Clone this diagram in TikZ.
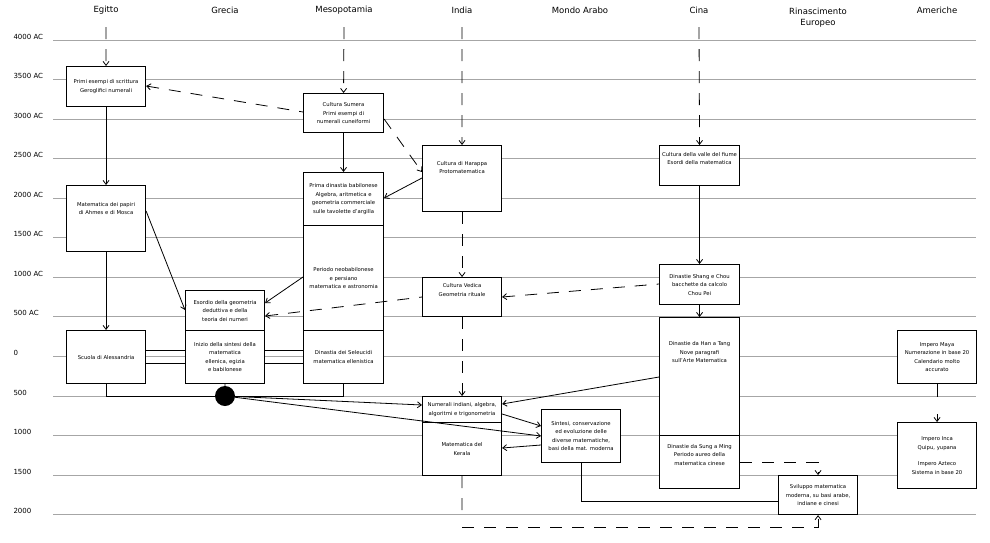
\documentclass[tikz,border=0pt]{standalone}
\usepackage{fontspec}
\setmainfont{DejaVu Sans}
\usetikzlibrary{arrows.meta}
\begin{document}
\begin{tikzpicture}[x=1pt,y=-1pt,
 box/.style={draw,line width=1.1pt,anchor=north west,inner sep=1pt,align=center,font=\fontsize{5.3}{8.5}\selectfont},
 hdr/.style={font=\fontsize{8.5}{11}\selectfont,align=center},
 yl/.style={font=\fontsize{7}{9}\selectfont,anchor=west},
 ar/.style={-{Straight Barb[length=4pt,width=6pt]},line width=0.8pt},
 dar/.style={ar,dash pattern=on 12pt off 10pt},
 gl/.style={gray!70,line width=0.9pt}]
\useasboundingbox (0,0) rectangle (990,542);
% time lines
\foreach \yy/\t in {40/4000 AC,79/3500 AC,119/3000 AC,158/2500 AC,198/2000 AC,237/1500 AC,277/1000 AC,316/500 AC,356/0,396/500,435/1000,475/1500,514/2000}{
 \node[yl] (l\yy) at (10,\yy-3) {\t};
 \draw[gl] (53,\yy) -- (976,\yy);}
% headers
\node[hdr] (hE) at (106,10) {Egitto};
\node[hdr] (hG) at (225,10) {Grecia};
\node[hdr] (hM) at (344,10) {Mesopotamia};
\node[hdr] (hI) at (462,10) {India};
\node[hdr] (hA) at (580,10) {Mondo Arabo};
\node[hdr] (hC) at (699,10) {Cina};
\node[hdr] (hR) at (818,18) {Rinascimento\\Europeo};
\node[hdr] (hAm) at (937,10) {Americhe};
% boxes
\newcommand{\bx}[6]{\node[box,fill=white,minimum width=#4-#2,minimum height=#5-#3] (#1) at (#2,#3) {#6};}
\bx{egy}{66}{66}{145}{106}{Primi esempi di scrittura\\Geroglifici numerali}
\bx{sum}{303}{93}{383}{132}{Cultura Sumera\\Primi esempi di\\numerali cuneiformi}
\bx{har}{422}{145}{501}{211}{Cultura di Harappa\\Protomatematica\\[14pt]}
\bx{bab}{303}{172}{383}{225}{Prima dinastia babilonese\\Algebra, aritmetica e\\geometria commerciale\\sulle tavolette d'argilla}
\bx{neo}{303}{225}{383}{330}{Periodo neobabilonese\\e persiano\\matematica e astronomia}
\bx{sel}{303}{330}{383}{383}{Dinastia dei Seleucidi\\matematica ellenistica}
\bx{ahm}{66}{185}{145}{251}{Matematica dei papiri\\di Ahmes e di Mosca\\[12pt]}
\bx{ale}{66}{330}{145}{383}{Scuola di Alessandria}
\bx{geo}{185}{290}{264}{330}{Esordio della geometria\\deduttiva e della\\teoria dei numeri}
\bx{ini}{185}{330}{264}{383}{Inizio della sintesi della\\matematica\\ellenica, egizia\\e babilonese}
\bx{ved}{422}{277}{501}{316}{Cultura Vedica\\Geometria rituale\\[6pt]}
\bx{num}{422}{396}{501}{422}{Numerali indiani, algebra,\\algoritmi e trigonometria}
\bx{ker}{422}{422}{501}{475}{Matematica del\\Kerala}
\bx{sin}{541}{409}{620}{462}{Sintesi, conservazione\\ed evoluzione delle\\diverse matematiche,\\basi della mat. moderna}
\bx{val}{659}{145}{739}{185}{Cultura della valle del fiume\\Esordi della matematica\\[6pt]}
\bx{sha}{659}{264}{739}{304}{Dinastie Shang e Chou\\bacchette da calcolo\\Chou Pei}
\bx{han}{659}{317}{739}{435}{Dinastie da Han a Tang\\Nove paragrafi\\sull'Arte Matematica\\[40pt]}
\bx{sun}{659}{435}{739}{488}{Dinastie da Sung a Ming\\Periodo aureo della\\matematica cinese\\[6pt]}
\bx{svi}{778}{475}{857}{514}{Sviluppo matematica\\moderna, su basi arabe,\\indiane e cinesi}
\bx{may}{897}{330}{976}{383}{Impero Maya\\Numerazione in base 20\\Calendario molto\\accurato}
\bx{inc}{897}{422}{976}{488}{Impero Inca\\Quipu, yupana\\[8pt]Impero Azteco\\Sistema in base 20}
% start coordinates
\coordinate (sE) at (106,27); \coordinate (sM) at (344,27);
\coordinate (sI) at (462,27); \coordinate (sC) at (699,27);
\draw[dar] (sE) -- (egy.north);
\draw[dar] (sM) -- (sum.north);
\draw[dar] (sI) -- (har.north);
\draw[dar] (sC) -- (val.north);
\draw[ar] (egy.south) -- (ahm.north);
\draw[ar] (ahm.south) -- (ale.north);
\draw[ar] (sum.south) -- (bab.north);
\draw[ar] (val.south) -- (sha.north);
\draw[ar] (sha.south) -- (han.north);
\draw[dar] (har.south) -- (ved.north);
\draw[dar] (ved.south) -- (num.north);
\coordinate (kI) at (462,514);
\draw[line width=0.8pt,dash pattern=on 12pt off 10pt] (ker.south) -- (kI);
\coordinate (bI) at (462,527);
\draw[dar] (bI) -| (svi.south);
\draw[dar] (sun.east|-0,462) -| (svi.north);
\draw[dar,{Straight Barb[length=4pt,width=6pt]}-] (egy.east|-0,86) -- (sum.west|-0,112);
\draw[dar] (sum.east|-0,119) -- (har.west|-0,172);
\draw[ar,{Straight Barb[length=4pt,width=6pt]}-] (bab.east|-0,198) -- (har.west|-0,178);
\draw[ar] (ahm.east|-0,211) -- (geo.west|-0,310);
\draw[ar] (neo.west|-0,277) -- (geo.east|-0,303);
\draw[dar,{Straight Barb[length=4pt,width=6pt]}-] (geo.east|-0,316) -- (ved.west|-0,297);
\draw[dar,{Straight Barb[length=4pt,width=6pt]}-] (ved.east|-0,297) -- (sha.west|-0,284);
% links 0
\foreach \yy in {350,363}{
 \draw[line width=0.8pt] (ale.east|-0,\yy) -- (ini.west|-0,\yy);
 \draw[line width=0.8pt] (ini.east|-0,\yy) -- (sel.west|-0,\yy);}
\draw[line width=0.8pt] (ale.south) |- (225,396) -| (sel.south);
\node[circle,fill=black,minimum size=20pt,inner sep=0] (dot) at (225,396) {};
\draw[line width=0.8pt] (ini.south) -- (dot);
\draw[ar] (dot) -- (num.west|-0,405);
\draw[ar] (dot) -- (sin.west|-0,436);
\draw[ar] (num.east|-0,414) -- (sin.west|-0,426);
\draw[ar] (sin.west|-0,445) -- (ker.east|-0,448);
\draw[ar,{Straight Barb[length=4pt,width=6pt]}-] (num.east|-0,404) -- (han.west|-0,377);
\draw[line width=0.8pt] (sin.south) |- (svi.west|-0,501);
\draw[dar,dash pattern=on 13pt off 17pt] (may.south) -- (inc.north);
\end{tikzpicture}
\end{document}
